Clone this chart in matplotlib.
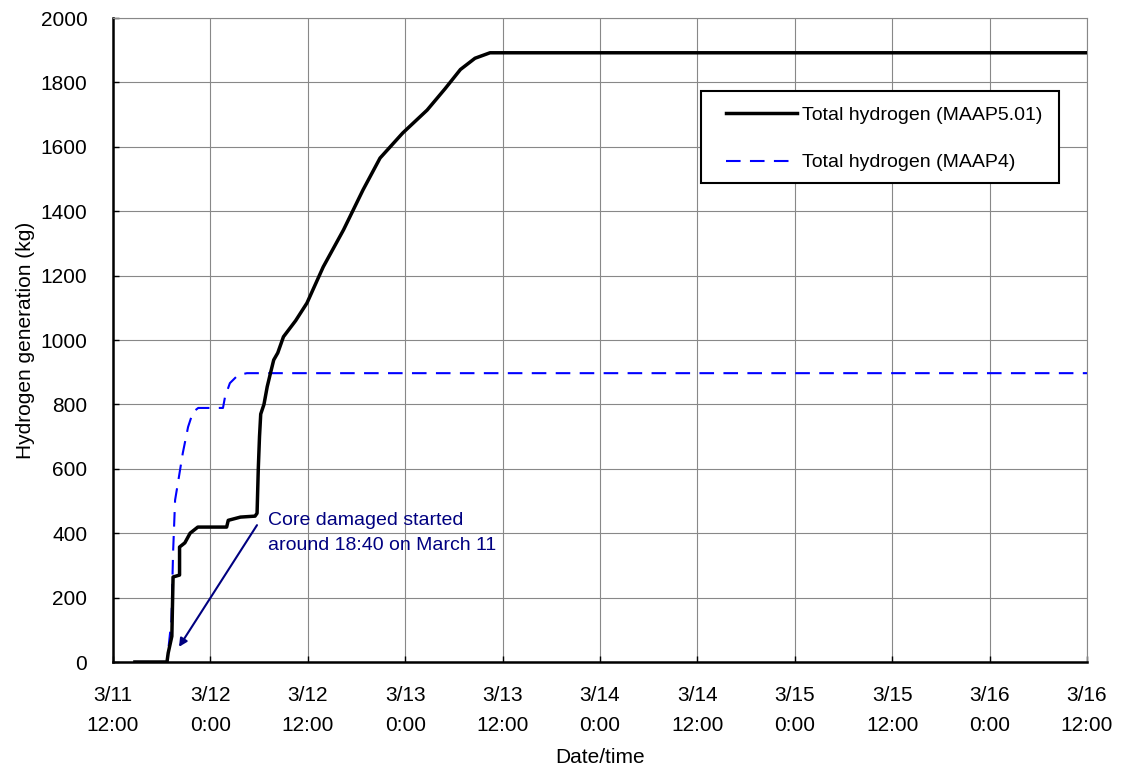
import matplotlib
matplotlib.use("Agg")
import matplotlib.pyplot as plt
from matplotlib.patches import Rectangle
import numpy as np

plt.rcParams['font.family'] = ['Liberation Sans', 'DejaVu Sans']

# hours after 3/11 12:00
maap5_hours = [2.7, 6.65, 6.8, 7.25, 7.4, 8.2, 8.2, 8.85, 9.5, 10.45, 14.0, 14.2, 15.7,
               17.5, 17.75, 17.9, 18.05, 18.2, 18.6, 19.0, 19.4, 19.8, 20.3, 21.0, 22.5,
               23.9, 25.9, 28.4, 30.8, 32.9, 35.7, 38.7, 40.9, 42.8, 44.6, 46.45, 120.0]
maap5_h2 = [0, 0, 28, 80, 264, 270, 357, 370, 400, 419, 419, 440, 450,
            453, 462, 600, 700, 770, 800, 855, 897, 938, 960, 1010, 1060,
            1115, 1227, 1342, 1466, 1565, 1643, 1714, 1780, 1840, 1875, 1892, 1892]

maap4_hours = [2.7, 6.65, 7.2, 7.4, 7.65, 8.0, 8.6, 9.25, 9.85, 10.5, 13.55, 13.8,
               14.4, 15.4, 16.5, 120.0]
maap4_h2 = [0, 0, 130, 338, 503, 556, 649, 730, 776, 789, 789, 823,
            866, 891, 897, 897]

tick_hours = np.arange(0, 121, 12)
tick_labels = ["3/11\n12:00", "3/12\n0:00", "3/12\n12:00", "3/13\n0:00", "3/13\n12:00",
               "3/14\n0:00", "3/14\n12:00", "3/15\n0:00", "3/15\n12:00", "3/16\n0:00",
               "3/16\n12:00"]

fig = plt.figure(figsize=(11.22, 7.69), dpi=100)
ax = fig.add_axes([113/1122, 1 - 662/769, 974/1122, 644/769])

ax.plot(maap5_hours, maap5_h2, color="black", lw=2.5, label="Total hydrogen (MAAP5.01)", zorder=4)
ax.plot(maap4_hours, maap4_h2, color="#0000ff", lw=1.5, dashes=(7, 4.5),
        label="Total hydrogen (MAAP4)", zorder=3)

ax.set_xlim(0, 120)
ax.set_ylim(0, 2000)
ax.set_xticks(tick_hours)
ax.set_xticklabels(tick_labels, fontsize=15, linespacing=1.78)
ax.set_yticks(np.arange(0, 2001, 200))
ax.tick_params(axis="y", labelsize=15, direction="in", length=4, width=1, pad=18.5)
ax.tick_params(axis="x", direction="in", length=4, width=1, pad=17)

ax.grid(True, color="#888888", lw=0.8)
for s in ["left", "bottom"]:
    ax.spines[s].set_linewidth(1.8)
for s in ["top", "right"]:
    ax.spines[s].set_color("#888888")
    ax.spines[s].set_linewidth(0.8)

ax.set_xlabel("Date/time", fontsize=15, labelpad=9)
ax.set_ylabel("Hydrogen generation (kg)", fontsize=15, labelpad=4)

# legend box drawn by hand, legend itself without frame
ax.add_patch(Rectangle((0.6037, 0.7438), 0.3676, 0.1428, transform=ax.transAxes,
                       facecolor="white", edgecolor="black", lw=1.5, zorder=5))
leg = ax.legend(loc="upper left", bbox_to_anchor=(0.6294, 0.8633), fontsize=14,
                frameon=False, handlelength=3.65, handletextpad=0.26,
                labelspacing=1.55, borderpad=0, borderaxespad=0)
leg.set_zorder(6)

ax.text(19.1, 402, "Core damaged started\naround 18:40 on March 11", color="#000080",
        fontsize=14, ha="left", va="center", linespacing=1.62, zorder=5)
ax.annotate("", xy=(8.13, 47), xytext=(17.74, 425),
            arrowprops=dict(arrowstyle="-|>", color="#000080", lw=1.5,
                            shrinkA=0, shrinkB=0, mutation_scale=12), zorder=5)

fig.savefig("out.png", dpi=100)
